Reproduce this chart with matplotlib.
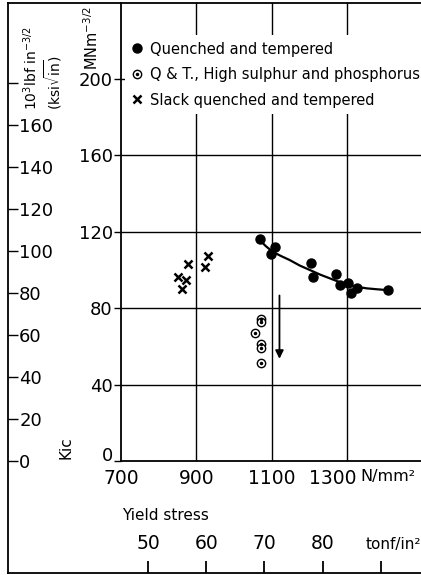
import matplotlib
matplotlib.use("Agg")
import matplotlib.pyplot as plt
from matplotlib.lines import Line2D

plt.rcParams['font.family'] = ['DejaVu Sans']

# yield stress (N/mm2) and K_Ic (MN m^-3/2)
qt_x = [1068, 1108, 1099, 1206, 1209, 1270, 1283, 1303, 1312, 1328, 1410]
qt_y = [115.9, 111.7, 108.0, 103.4, 96.4, 97.8, 91.9, 92.9, 87.7, 90.5, 89.4]

hsp_x = [1071, 1071, 1056, 1071, 1071, 1073]
hsp_y = [74.2, 72.5, 66.8, 61.2, 59.2, 51.1]

slack_x = [877, 852, 872, 863, 932, 924]
slack_y = [103.0, 96.0, 94.5, 90.0, 107.2, 101.3]

curve_x = [1068, 1085, 1103, 1125, 1148, 1175, 1206, 1230, 1255, 1280, 1308, 1330, 1352, 1380, 1406]
curve_y = [115.6, 112.3, 109.4, 107.2, 105.1, 102.2, 99.5, 97.4, 95.5, 93.6, 92.0, 91.0, 90.3, 89.8, 89.4]

arrow_x = 1121
arrow_y = (88, 52)

x_ticks = [700, 900, 1100, 1300]
y_ticks = [0, 40, 80, 120, 160, 200]
ksi_ticks = [0, 20, 40, 60, 80, 100, 120, 140, 160, 180]
tonf_ticks = [50, 60, 70, 80, 90]

MN_PER_KSI = 1.0988
N_PER_TONF = 15.444

W, H = 421, 575
fig = plt.figure(figsize=(W / 100, H / 100), dpi=100)


def fx(px):
    return px / W


def fy(py):
    return 1 - py / H


x0, x1 = 700, 1497
y0, y1 = 0, 239.5
ax = fig.add_axes([fx(121), fy(461), fx(421) - fx(121), fy(3) - fy(461)])
ax.set_xlim(x0, x1)
ax.set_ylim(y0, y1)

for g in x_ticks[1:]:
    ax.axvline(g, color='k', lw=1.0, zorder=1)
for g in y_ticks[1:]:
    ax.axhline(g, color='k', lw=1.0, zorder=1)

ax.plot(curve_x, curve_y, color='k', lw=1.6, zorder=3)
h1, = ax.plot(qt_x, qt_y, 'o', color='k', ms=6.5, zorder=4, ls='none')
h2a, = ax.plot(hsp_x, hsp_y, 'o', mfc='white', mec='k', mew=1.0, ms=6, ls='none', zorder=4)
h2b, = ax.plot(hsp_x, hsp_y, 'o', color='k', ms=1.5, ls='none', zorder=5)
h3, = ax.plot(slack_x, slack_y, 'x', color='k', ms=6, mew=1.8, ls='none', zorder=4)
ax.annotate('', xy=(arrow_x, arrow_y[1]), xytext=(arrow_x, arrow_y[0]),
            arrowprops=dict(arrowstyle='-|>', color='k', lw=1.3, mutation_scale=12))

leg = ax.legend([h1, (h2a, h2b), h3],
                ['Quenched and tempered', 'Q & T., High sulphur and phosphorus',
                 'Slack quenched and tempered'],
                loc='upper left', bbox_to_anchor=(0.012, (461 - 35) / 458),
                borderaxespad=0, frameon=True, fancybox=False, framealpha=1,
                facecolor='white', edgecolor='none', fontsize=10.5,
                handlelength=0.8, handletextpad=0.5, labelspacing=0.72,
                borderpad=0.45)
leg.set_zorder(6)

for s in ['top', 'right']:
    ax.spines[s].set_visible(False)
for s in ['left', 'bottom']:
    ax.spines[s].set_linewidth(1.3)

ax.set_yticks(y_ticks)
ax.set_yticklabels([str(v) for v in y_ticks], fontsize=13)
ax.get_yticklabels()[0].set_verticalalignment('baseline')
ax.tick_params(axis='y', direction='out', length=5, width=1.0, pad=1)
ax.set_xticks(x_ticks)
ax.set_xticklabels([str(v) for v in x_ticks[:-1]] + [''], fontsize=13.5)
ax.tick_params(axis='x', length=0, pad=6)
ax.annotate('1300', xy=(1300, 0), xycoords=('data', 'axes fraction'),
            xytext=(-10, -6), textcoords='offset points', ha='center', va='top',
            fontsize=13.5)
ax.annotate('N/mm²', xy=(1300, 0), xycoords=('data', 'axes fraction'),
            xytext=(9.5, -6), textcoords='offset points', ha='left', va='top',
            fontsize=11.5)

# ksi sqrt(in) scale on the far left
axk = fig.add_axes([fx(8), fy(461), 0.0001, fy(3) - fy(461)])
axk.set_ylim(y0 / MN_PER_KSI, y1 / MN_PER_KSI)
axk.set_xticks([])
axk.yaxis.tick_right()
axk.set_yticks(ksi_ticks)
axk.set_yticklabels([str(v) if v < 180 else '' for v in ksi_ticks], fontsize=13)
axk.tick_params(axis='y', direction='out', length=7, width=1.0, pad=1)
for s in axk.spines.values():
    s.set_visible(False)
axk.patch.set_visible(False)

# tonf/in2 scale at the bottom
axt = fig.add_axes([fx(121), fy(573), fx(421) - fx(121), 0.0001])
axt.set_xlim(x0 / N_PER_TONF, x1 / N_PER_TONF)
axt.set_yticks([])
axt.xaxis.tick_top()
axt.set_xticks(tonf_ticks)
axt.set_xticklabels([str(v) if v < 90 else '' for v in tonf_ticks], fontsize=13.5)
axt.tick_params(axis='x', direction='out', length=9, width=1.3, pad=5)
for s in axt.spines.values():
    s.set_visible(False)
axt.patch.set_visible(False)

# outer frame
for xs, ys in [((8, 421), (3, 3)), ((8, 8), (3, 573)), ((8, 421), (573, 573))]:
    fig.add_artist(Line2D([fx(v) for v in xs], [fy(v) for v in ys], color='k', lw=1.3))

fig.text(fx(31), fy(110), r'10$^3$lbf in$^{-3/2}$', rotation=90, ha='center', va='bottom',
         fontsize=10)
fig.text(fx(53), fy(110), r'(ksi$\sqrt{\mathrm{in}}$)', rotation=90, ha='center',
         va='bottom', fontsize=10)
fig.text(fx(92), fy(70), r'MNm$^{-3/2}$', rotation=90, ha='center', va='bottom',
         fontsize=10.5)
fig.text(fx(66), fy(448), 'Kic', rotation=90, ha='center', va='center', fontsize=11)
fig.text(fx(122), fy(516), 'Yield stress', ha='left', va='center', fontsize=11)
fig.text(fx(393), fy(545), 'tonf/in²', ha='center', va='center', fontsize=11)

fig.savefig('out.png', dpi=100)
